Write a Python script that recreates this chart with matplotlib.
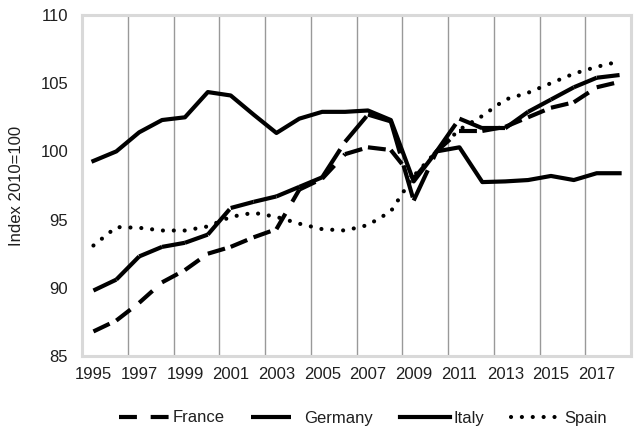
import numpy as np
import matplotlib
matplotlib.use("Agg")
from matplotlib import pyplot as plt
from matplotlib.lines import Line2D

plt.rcParams['font.family'] = ['Liberation Sans', 'DejaVu Sans']

years = list(range(1995, 2019))
france = [86.8, 87.6, 88.9, 90.4, 91.3, 92.5, 93.0, 93.7, 94.3, 97.2, 98.0, 99.8,
          100.3, 100.1, 98.0, 100.0, 101.5, 101.5, 101.8, 102.5, 103.2, 103.6, 104.7, 105.1]
germany = [89.8, 90.6, 92.3, 93.0, 93.3, 93.9, 95.85, 96.3, 96.7, 97.4, 98.1, 100.7,
           102.7, 102.2, 96.4, 100.0, 102.4, 101.7, 101.7, 102.9, 103.8, 104.7, 105.4, 105.6]
italy = [99.3, 100.0, 101.4, 102.3, 102.5, 104.35, 104.1, 102.7, 101.35, 102.4, 102.9, 102.9,
         103.0, 102.3, 97.8, 100.0, 100.3, 97.75, 97.8, 97.9, 98.2, 97.9, 98.4, 98.4]
spain = [93.1, 94.45, 94.4, 94.2, 94.2, 94.5, 95.2, 95.5, 95.2, 94.7, 94.3, 94.2,
         94.6, 95.6, 98.2, 100.0, 101.6, 102.6, 103.8, 104.3, 105.0, 105.7, 106.2, 106.6]
xlabels = [str(y) for y in range(1995, 2018, 2)]
ylabel = "Index 2010=100"

txt = '#1f1f1f'
lw = 3.0
france_dash = (4.3, 3.3)
germany_dash = (8, 3)
spain_dash = (0.01, 2.6)

fig = plt.figure(figsize=(6.38, 4.30), dpi=100)
ax = fig.add_axes([82 / 638, 1 - 356 / 430, 549 / 638, 341 / 430])


def plot_segments(ax, x, y, dashes):
    # excel restarts the dash pattern at every point
    for i in range(len(x) - 1):
        ax.plot(x[i:i + 2], y[i:i + 2], color='k', lw=lw, dashes=dashes)


plot_segments(ax, years, france, france_dash)
plot_segments(ax, years, germany, germany_dash)
ax.plot(years, italy, color='k', lw=lw, solid_joinstyle='round')
ax.plot(years, spain, color='k', lw=lw, dashes=spain_dash, dash_capstyle='round')

ax.set_xlim(1994.5, 2018.5)
ax.set_ylim(85, 110)
ax.set_xticks(range(1995, 2018, 2))
ax.set_xticklabels(xlabels)
ax.set_xticks(np.arange(1996.5, 2017, 2), minor=True)
ax.set_yticks(range(85, 111, 5))
ax.tick_params(which='both', length=0)
ax.tick_params(axis='x', pad=8, labelsize=12, labelcolor=txt)
ax.tick_params(axis='y', pad=10, labelsize=12, labelcolor=txt)
ax.grid(which='minor', axis='x', color='#999999', lw=1.0)
ax.set_axisbelow(True)
for s in ax.spines.values():
    s.set_color('#d9d9d9')
    s.set_linewidth(2.2)

ax.set_ylabel(ylabel, fontsize=12, color=txt)
ax.yaxis.set_label_coords(-0.106, 0.5)

# legend sample for germany shows one long dash only
handles = [
    Line2D([], [], color='k', lw=lw, dashes=france_dash),
    Line2D([], [], color='k', lw=lw, dashes=(9.6, 4)),
    Line2D([], [], color='k', lw=lw),
    Line2D([], [], color='k', lw=lw, dashes=spain_dash, dash_capstyle='round'),
]
leg = fig.legend(handles, ['France', 'Germany', 'Italy', 'Spain'], loc='center',
                 bbox_to_anchor=(363 / 638, 1 - 418 / 430), ncol=4, frameon=False,
                 fontsize=12, handlelength=3.0, handletextpad=0.2, columnspacing=1.6,
                 borderpad=0)
for t in leg.get_texts():
    t.set_color(txt)

fig.savefig('out.png', dpi=100)
